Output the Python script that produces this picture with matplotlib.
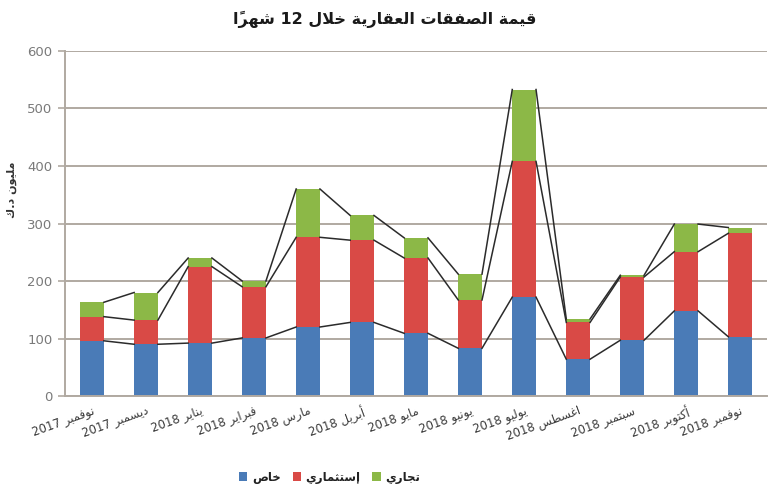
import matplotlib
matplotlib.use("Agg")
import matplotlib.pyplot as plt
import numpy as np

# ---- data (million KD) ----
months = ["نوفمبر 2017", "ديسمبر 2017", "يناير 2018", "فبراير 2018", "مارس 2018",
          "أبريل 2018", "مايو 2018", "يونيو 2018", "يوليو 2018", "اغسطس 2018",
          "سبتمبر 2018", "أكتوبر 2018", "نوفمبر 2018"]
private = [96, 90, 92, 101, 120, 128, 109, 83, 172, 64, 97, 148, 103]
investment = [42, 42, 133, 89, 156, 143, 131, 84, 236, 64, 110, 103, 180]
commercial = [25, 48, 15, 10, 84, 43, 35, 45, 125, 6, 3, 48, 10]
series_names = ["خاص", "إستثماري", "تجاري"]
title = "قيمة الصفقات العقارية خلال 12 شهراً"
ylabel = "مليون د.ك"

# ---- minimal arabic shaping (matplotlib has no complex text layout) ----
DUAL = {'ب': 0xFE8F, 'ت': 0xFE95, 'ث': 0xFE99, 'ج': 0xFE9D, 'ح': 0xFEA1, 'خ': 0xFEA5,
        'س': 0xFEB1, 'ش': 0xFEB5, 'ص': 0xFEB9, 'ض': 0xFEBD, 'ط': 0xFEC1, 'ظ': 0xFEC5,
        'ع': 0xFEC9, 'غ': 0xFECD, 'ف': 0xFED1, 'ق': 0xFED5, 'ك': 0xFED9, 'ل': 0xFEDD,
        'م': 0xFEE1, 'ن': 0xFEE5, 'ه': 0xFEE9, 'ي': 0xFEF1}
RIGHT = {'ا': 0xFE8D, 'أ': 0xFE83, 'إ': 0xFE87, 'آ': 0xFE81, 'ة': 0xFE93, 'د': 0xFEA9,
         'ذ': 0xFEAB, 'ر': 0xFEAD, 'ز': 0xFEAF, 'و': 0xFEED, 'ى': 0xFEEF}
LAMALEF = {'ا': 0xFEFB, 'أ': 0xFEF7, 'إ': 0xFEF9, 'آ': 0xFEF5}
MARKS = set(chr(c) for c in range(0x064B, 0x0653))


def ar(text):
    # clusters: [char, base_code, kind, marks]
    cl = []
    for ch in text:
        if ch in MARKS and cl:
            cl[-1][3] += ch
            continue
        if ch in LAMALEF and cl and cl[-1][0] == 'ل' and not cl[-1][3]:
            cl[-1] = ['لا', LAMALEF[ch], 'R', '']
            continue
        if ch in DUAL:
            cl.append([ch, DUAL[ch], 'D', ''])
        elif ch in RIGHT:
            cl.append([ch, RIGHT[ch], 'R', ''])
        else:
            cl.append([ch, None, None, ''])
    out = []
    for i, (ch, base, kind, marks) in enumerate(cl):
        if base is None:
            out.append((ch + marks, ch.isdigit()))
            continue
        prev_j = i > 0 and cl[i - 1][2] == 'D'
        next_j = kind == 'D' and i + 1 < len(cl) and cl[i + 1][2] is not None
        form = 3 if prev_j and next_j else 1 if prev_j else 2 if next_j else 0
        out.append((chr(base + form) + marks, False))
    # visual order: reverse runs, keep digit runs left-to-right
    runs = []
    for s, ltr in out:
        if runs and runs[-1][1] == ltr:
            runs[-1][0].append(s)
        else:
            runs.append([[s], ltr])
    res = ""
    for items, ltr in reversed(runs):
        res += "".join(items if ltr else reversed(items))
    return res


plt.rcParams['font.family'] = ['DejaVu Sans']

blue = '#4a7bb7'
red = '#d94a46'
green = '#8cb847'
grid_c = '#b0a9a1'

x = np.arange(len(months))
w = 0.44
lvl1 = np.array(private)
lvl2 = lvl1 + np.array(investment)
lvl3 = lvl2 + np.array(commercial)

fig = plt.figure(figsize=(7.7, 4.99), dpi=100)
ax = fig.add_axes([0.0844, 0.2064, 0.912, 0.6914])

ax.bar(x, private, w, color=blue, zorder=2, label=ar(series_names[0]))
ax.bar(x, investment, w, bottom=lvl1, color=red, zorder=2, label=ar(series_names[1]))
ax.bar(x, commercial, w, bottom=lvl2, color=green, zorder=2, label=ar(series_names[2]))

# series lines between bar corners
for lvl in (lvl1, lvl2, lvl3):
    for i in range(len(x) - 1):
        ax.plot([x[i] + w / 2, x[i + 1] - w / 2], [lvl[i], lvl[i + 1]],
                color='#2b2b2b', lw=1.1, zorder=3)

ax.set_xlim(-0.5, len(x) - 0.5)
ax.set_ylim(0, 600)
ax.set_yticks(np.arange(0, 601, 100))
ax.yaxis.grid(True, color=grid_c, lw=1.4, zorder=0)
ax.set_axisbelow(True)
for s in ('top', 'right'):
    ax.spines[s].set_visible(False)
for s in ('left', 'bottom'):
    ax.spines[s].set_color(grid_c)
    ax.spines[s].set_linewidth(1.4)
ax.tick_params(axis='y', colors=grid_c, length=5, width=1.2, labelsize=9.5,
               labelcolor='#7a7a7a', pad=4)
ax.tick_params(axis='x', length=0, pad=6)
ax.set_xticks(x)
ax.set_xticklabels([ar(m) for m in months], rotation=20, ha='right',
                   rotation_mode='anchor', fontsize=8.5, color='#3a3a3a')

fig.text(0.016, 0.62, ar(ylabel), rotation=90, ha='center', va='center',
         fontsize=8, fontweight='bold', color='#333333')
fig.text(0.5, 0.962, ar(title), ha='center', va='center', fontsize=11.5,
         fontweight='bold', color='#1a1a1a')

leg = fig.legend(loc='center', bbox_to_anchor=(0.428, 0.044), ncol=3, frameon=False,
                 fontsize=8.5, handlelength=0.7, handleheight=0.7, handletextpad=0.4,
                 columnspacing=1.0)
for t in leg.get_texts():
    t.set_fontweight('bold')
    t.set_color('#222222')

fig.savefig("out.png", dpi=100)
